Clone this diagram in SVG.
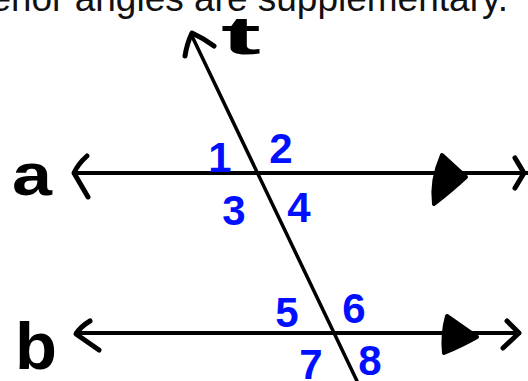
<svg xmlns="http://www.w3.org/2000/svg" width="528" height="381" viewBox="0 0 528 381">
<style>
.ln{stroke:#000;fill:none;stroke-linecap:round;stroke-linejoin:round}
.thin{stroke-width:4}
.hand{stroke-width:5}
.tri{fill:#000;stroke:#000;stroke-width:4;stroke-linejoin:round}
.lbl{font-family:"Liberation Sans","DejaVu Sans",sans-serif;font-weight:bold;fill:#000}
.num{font-family:"Liberation Sans","DejaVu Sans",sans-serif;font-weight:bold;fill:#0010ff;font-size:42px;text-anchor:middle}
.cap{font-family:"Liberation Sans","DejaVu Sans",sans-serif;font-size:37px;fill:#111;text-anchor:end}
</style>
<rect width="528" height="381" fill="#fff"/>
<text class="cap" x="508" y="11">interior angles are supplementary.</text>
<g id="connectors">
<g id="line-a">
<path class="ln thin" d="M74,173 L528,173"/>
<path class="ln hand" d="M87,156 Q78,164 74,173 L88,197"/>
<path class="tri" d="M442,155 L466,177 Q452,190 434,204 Q431,180 442,155 Z"/>
<path class="ln hand" d="M515,158 L524,173 L515,188"/>
</g>
<g id="line-b">
<path class="ln thin" d="M76,333 L519,333"/>
<path class="ln hand" d="M90,321 Q80,327 76,334 L99,350"/>
<path class="tri" d="M447,316 L477,337 Q463,345 444,353 Q442,334 447,316 Z"/>
<path class="ln hand" d="M507,321 L519,333 L503,348"/>
</g>
<g id="transversal-t">
<path class="ln" stroke-width="3.5" d="M191,34 L357,381"/>
<path class="ln hand" d="M185,56 Q187,43 192,33 Q203,38 214,46"/>
</g>
</g>
<g id="label-t"><text class="lbl" x="221" y="54" font-size="54" textLength="40" lengthAdjust="spacingAndGlyphs">t</text></g>
<g id="label-a"><text class="lbl" x="12" y="195" font-size="60" textLength="40" lengthAdjust="spacingAndGlyphs">a</text></g>
<g id="label-b"><text class="lbl" x="15" y="369" font-size="66" textLength="42" lengthAdjust="spacingAndGlyphs">b</text></g>
<g id="angles">
<text class="num" x="220" y="172">1</text>
<text class="num" x="281" y="163">2</text>
<text class="num" x="234" y="225">3</text>
<text class="num" x="299" y="222">4</text>
<text class="num" x="287" y="327">5</text>
<text class="num" x="354" y="323">6</text>
<text class="num" x="311" y="379">7</text>
<text class="num" x="370" y="375">8</text>
</g>
</svg>
